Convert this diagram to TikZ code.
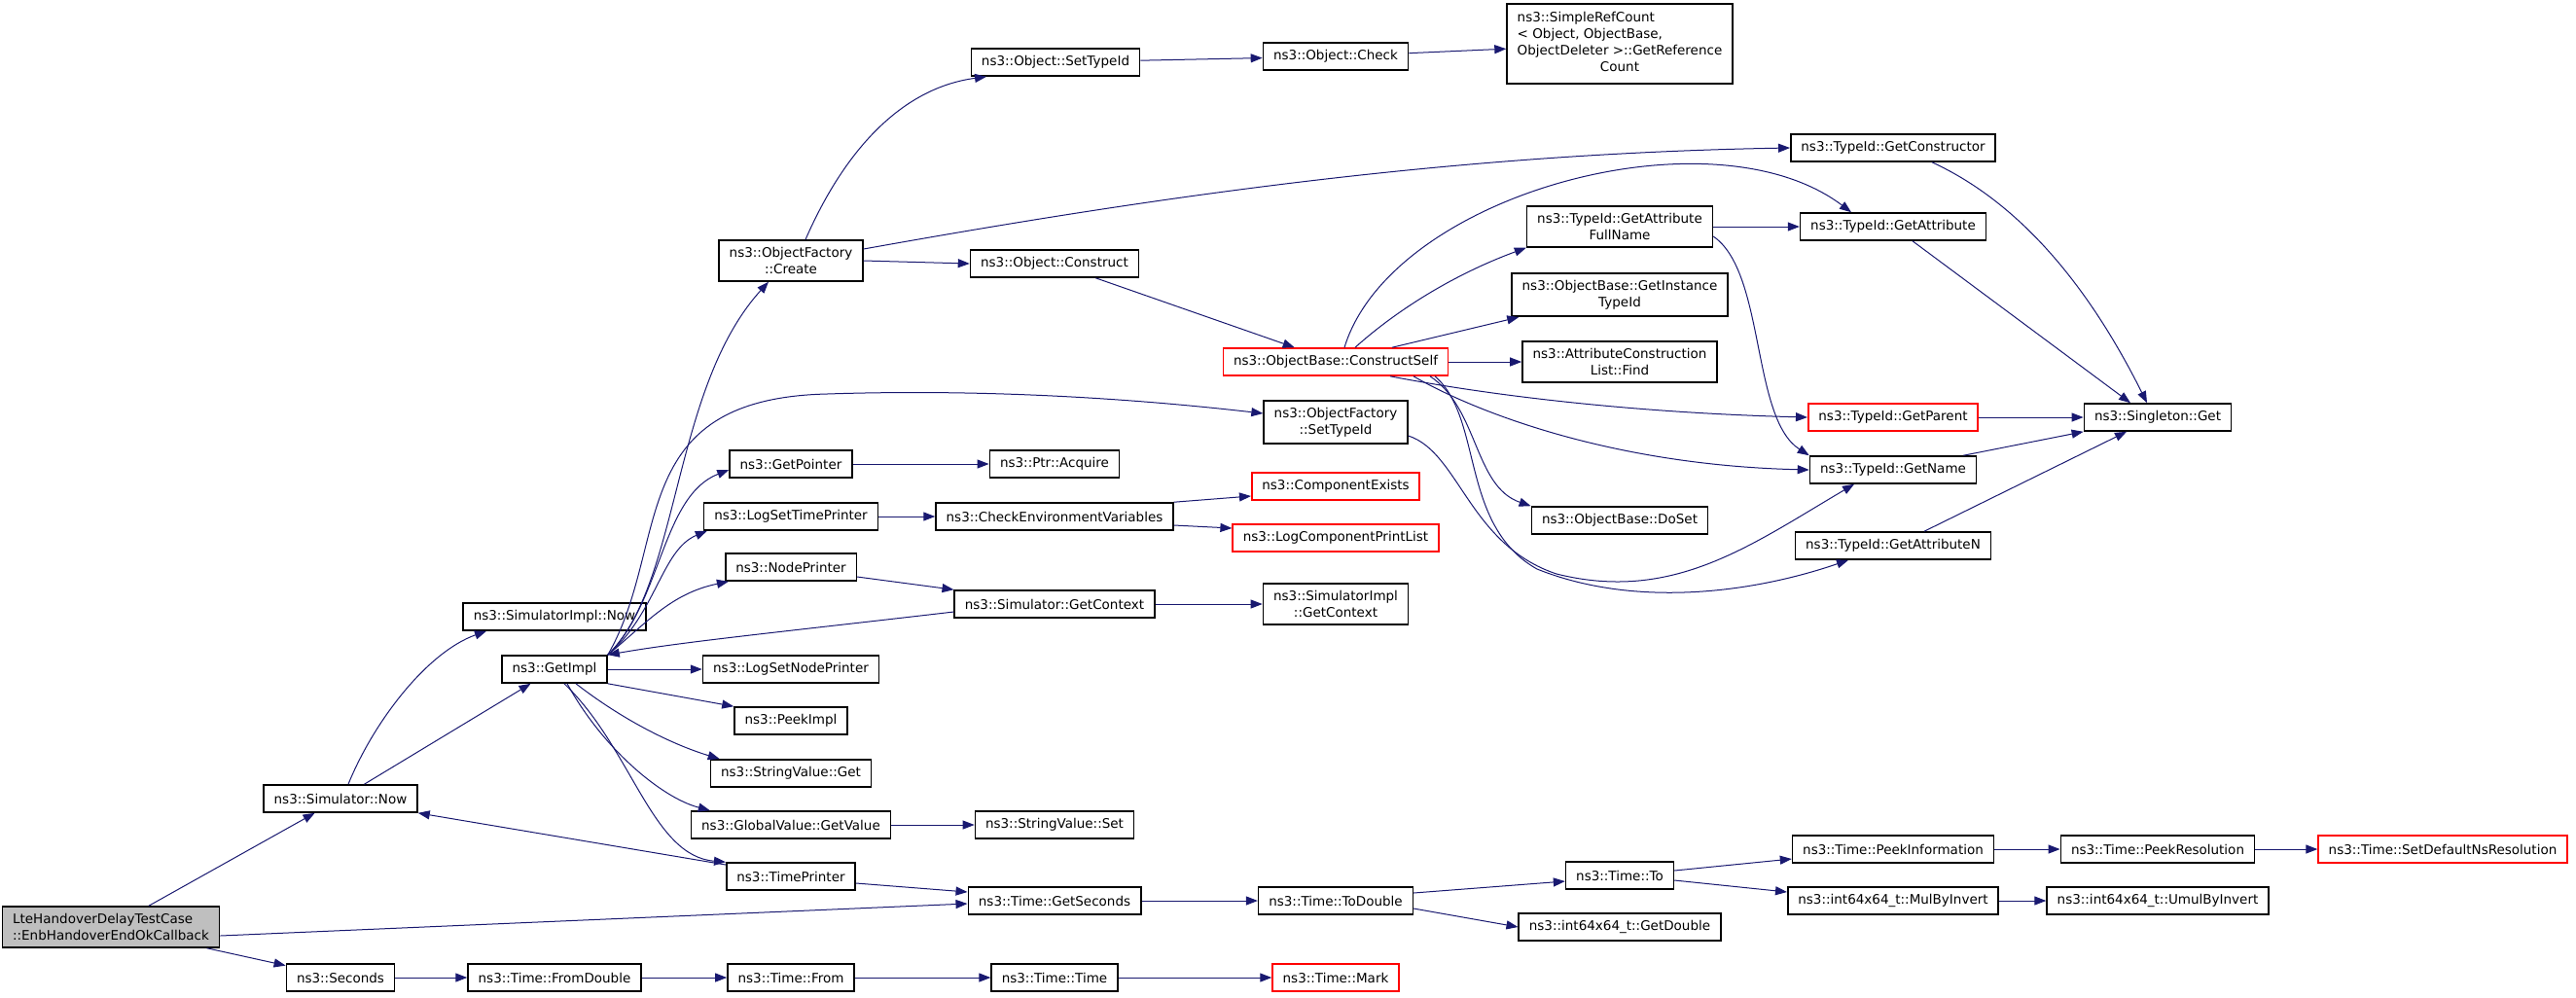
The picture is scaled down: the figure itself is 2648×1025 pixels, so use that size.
\documentclass[tikz,border=0pt]{standalone}
\usepackage{fontspec}
\setmainfont{DejaVu Sans}
\usepackage{tikz}
\usetikzlibrary{arrows.meta}
\definecolor{edgeblue}{HTML}{191970}
\definecolor{rootgray}{HTML}{BFBFBF}

\begin{document}
\begin{tikzpicture}[x=0.5pt,y=-0.5pt,
  fn/.style={draw=black,fill=white,line width=0.8pt,inner xsep=5.3pt,inner ysep=3.6pt,
    minimum height=14pt,align=center,font=\fontsize{6.75}{8.5}\selectfont},
  fnred/.style={fn,draw=red},
  call/.style={draw=edgeblue,line width=0.5pt,-{Triangle[length=6pt,width=4.5pt]}}]
  \useasboundingbox (0,0) rectangle (2648,1025);

  \node[fn,fill=rootgray,align=left] (root) at (114,953) {LteHandoverDelayTestCase\\::EnbHandoverEndOkCallback};
  \node[fn] (simNow) at (350,821) {ns3::Simulator::Now};
  \node[fn] (seconds) at (350,1005) {ns3::Seconds};
  \node[fn] (implNow) at (570,634) {ns3::SimulatorImpl::Now};
  \node[fn] (getImpl) at (570,688) {ns3::GetImpl};
  \node[fn] (fromDouble) at (570,1005) {ns3::Time::FromDouble};
  \node[fn] (ofCreate) at (813,268) {ns3::ObjectFactory\\::Create};
  \node[fn] (getPointer) at (813,477) {ns3::GetPointer};
  \node[fn] (logTimePr) at (813,531) {ns3::LogSetTimePrinter};
  \node[fn] (nodePr) at (813,583) {ns3::NodePrinter};
  \node[fn] (logNodePr) at (813,688) {ns3::LogSetNodePrinter};
  \node[fn] (peekImpl) at (813,741) {ns3::PeekImpl};
  \node[fn] (svGet) at (813,795) {ns3::StringValue::Get};
  \node[fn] (gvGetValue) at (813,848) {ns3::GlobalValue::GetValue};
  \node[fn] (timePr) at (813,901) {ns3::TimePrinter};
  \node[fn] (timeFrom) at (813,1005) {ns3::Time::From};
  \node[fn] (objSetTid) at (1085,64) {ns3::Object::SetTypeId};
  \node[fn] (objConstruct) at (1084,271) {ns3::Object::Construct};
  \node[fn] (ptrAcquire) at (1084,477) {ns3::Ptr::Acquire};
  \node[fn] (checkEnv) at (1084,531) {ns3::CheckEnvironmentVariables};
  \node[fn] (simGetCtx) at (1084,621) {ns3::Simulator::GetContext};
  \node[fn] (svSet) at (1084,848) {ns3::StringValue::Set};
  \node[fn] (getSeconds) at (1084,926) {ns3::Time::GetSeconds};
  \node[fn] (timeTime) at (1084,1005) {ns3::Time::Time};
  \node[fn] (objCheck) at (1373,58) {ns3::Object::Check};
  \node[fnred] (constructSelf) at (1373,372) {ns3::ObjectBase::ConstructSelf};
  \node[fn] (ofSetTid) at (1373,434) {ns3::ObjectFactory\\::SetTypeId};
  \node[fnred] (compExists) at (1373,500) {ns3::ComponentExists};
  \node[fnred] (logCompList) at (1373,553) {ns3::LogComponentPrintList};
  \node[fn] (implGetCtx) at (1373,621) {ns3::SimulatorImpl\\::GetContext};
  \node[fn] (toDouble) at (1373,926) {ns3::Time::ToDouble};
  \node[fnred] (timeMark) at (1373,1005) {ns3::Time::Mark};
  \node[fn] (refCount) at (1665,45) {\begin{tabular}{@{}l@{}}ns3::SimpleRefCount\\< Object, ObjectBase,\\ ObjectDeleter >::GetReference\\\multicolumn{1}{@{}c@{}}{Count}\end{tabular}};
  \node[fn] (getAttrFull) at (1665,233) {ns3::TypeId::GetAttribute\\FullName};
  \node[fn] (instTid) at (1665,303) {ns3::ObjectBase::GetInstance\\TypeId};
  \node[fn] (attrFind) at (1665,372) {ns3::AttributeConstruction\\List::Find};
  \node[fn] (doSet) at (1665,535) {ns3::ObjectBase::DoSet};
  \node[fn] (timeTo) at (1665,900) {ns3::Time::To};
  \node[fn] (getDouble) at (1665,953) {ns3::int64x64\_t::GetDouble};
  \node[fn] (getCtor) at (1946,152) {ns3::TypeId::GetConstructor};
  \node[fn] (getAttr) at (1946,233) {ns3::TypeId::GetAttribute};
  \node[fnred] (getParent) at (1946,429) {ns3::TypeId::GetParent};
  \node[fn] (getName) at (1946,483) {ns3::TypeId::GetName};
  \node[fn] (getAttrN) at (1946,561) {ns3::TypeId::GetAttributeN};
  \node[fn] (peekInfo) at (1946,873) {ns3::Time::PeekInformation};
  \node[fn] (mulByInv) at (1946,926) {ns3::int64x64\_t::MulByInvert};
  \node[fn] (singleton) at (2218,429) {ns3::Singleton::Get};
  \node[fn] (peekRes) at (2218,873) {ns3::Time::PeekResolution};
  \node[fn] (umulByInv) at (2218,926) {ns3::int64x64\_t::UmulByInvert};
  \node[fnred] (setDefRes) at (2511,873) {ns3::Time::SetDefaultNsResolution};

  \draw[call] (root) -- (simNow);
  \draw[call] (root) -- (seconds);
  \draw[call] ([yshift=-4.5pt]root.east) -- ([yshift=-1.5pt]getSeconds.west);
  \draw[call] ([xshift=4pt]simNow.north) .. controls (385,740) and (440,670) .. ([xshift=-35pt]implNow.south);
  \draw[call] (simNow) -- (getImpl);
  \draw[call] ([yshift=6pt]timePr.west) -- (simNow.south east);
  \draw[call] (seconds) -- (fromDouble);
  \draw[call] (fromDouble) -- (timeFrom);
  \draw[call] (timeFrom) -- (timeTime);
  \draw[call] (timeTime) -- (timeMark);

  \draw[call] (getImpl.north east) .. controls (700,600) and (690,400) .. ([xshift=-11.5pt]ofCreate.south);
  \draw[call] (getImpl.north east) .. controls (690,560) and (640,410) .. (850,405) .. controls (1000,400) and (1150,408) .. ([yshift=4.5pt]ofSetTid.west);
  \draw[call] (getImpl.north east) .. controls (680,620) and (680,510) .. ([yshift=-3pt]getPointer.west);
  \draw[call] (getImpl.north east) .. controls (675,630) and (680,565) .. ([xshift=2pt]logTimePr.south west);
  \draw[call] (getImpl.north east) .. controls (665,640) and (690,610) .. ([xshift=2pt]nodePr.south west);
  \draw[call] ([yshift=-4pt]simGetCtx.west) .. controls (800,650) and (700,660) .. (getImpl.north east);
  \draw[call] (getImpl) -- (logNodePr);
  \draw[call] (getImpl.south east) -- (peekImpl.north west);
  \draw[call] ([xshift=11pt]getImpl.south) .. controls (640,740) and (690,765) .. ([xshift=5pt]svGet.north west);
  \draw[call] ([xshift=6.5pt]getImpl.south) .. controls (620,770) and (680,820) .. ([xshift=10pt]gvGetValue.north west);
  \draw[call] ([xshift=5pt]getImpl.south) .. controls (650,770) and (670,880) .. (timePr.north west);

  \draw[call] ([xshift=7.5pt]ofCreate.north) .. controls (870,150) and (930,90) .. ([xshift=-35.5pt]objSetTid.south);
  \draw[call] (ofCreate.east) -- (objConstruct.west);
  \draw[call] ([yshift=6pt]ofCreate.east) .. controls (1200,200) and (1500,158) .. (getCtor.west);
  \draw[call] (objSetTid) -- (objCheck);
  \draw[call] (objCheck) -- (refCount);
  \draw[call] (objConstruct) -- (constructSelf);

  \draw[call] ([xshift=4.5pt]constructSelf.north) .. controls (1430,200) and (1760,110) .. ([xshift=-21.5pt]getAttr.north);
  \draw[call] ([xshift=10pt]constructSelf.north) .. controls (1440,315) and (1500,280) .. (getAttrFull.south west);
  \draw[call] ([xshift=29pt]constructSelf.north) -- ([xshift=4pt]instTid.south west);
  \draw[call] (constructSelf) -- (attrFind);
  \draw[call] ([xshift=28pt]constructSelf.south) .. controls (1550,410) and (1700,425) .. (getParent.west);
  \draw[call] ([xshift=40pt]constructSelf.south) .. controls (1510,420) and (1650,478) .. (getName.west);
  \draw[call] ([xshift=48.5pt]constructSelf.south) .. controls (1520,420) and (1515,500) .. (doSet.north west);
  \draw[call] ([xshift=51pt]constructSelf.south) .. controls (1525,430) and (1500,540) .. (1580,585) .. controls (1680,625) and (1800,610) .. ([xshift=-23pt]getAttrN.south);
  \draw[call] ([yshift=-7pt]ofSetTid.east) .. controls (1500,465) and (1510,560) .. (1600,590) .. controls (1720,620) and (1800,560) .. ([xshift=-20pt]getName.south);

  \draw[call] (getAttrFull) -- (getAttr);
  \draw[call] ([yshift=-5pt]getAttrFull.east) .. controls (1815,280) and (1800,430) .. (getName.north west);
  \draw[call] ([xshift=20pt]getCtor.south) .. controls (2080,210) and (2150,300) .. ([xshift=-5.5pt]singleton.north);
  \draw[call] ([xshift=10pt]getAttr.south) -- ([xshift=-14pt]singleton.north);
  \draw[call] (getParent) -- (singleton);
  \draw[call] ([xshift=-7pt]getName.north east) -- (singleton.south west);
  \draw[call] ([xshift=16pt]getAttrN.north) -- ([xshift=-16pt]singleton.south);

  \draw[call] (getPointer) -- (ptrAcquire);
  \draw[call] (logTimePr) -- (checkEnv);
  \draw[call] (checkEnv.north east) -- ([yshift=-5pt]compExists.west);
  \draw[call] ([yshift=-4.5pt]checkEnv.east) -- ([yshift=5pt]logCompList.west);
  \draw[call] ([yshift=-5pt]nodePr.east) -- (simGetCtx.north west);
  \draw[call] (simGetCtx) -- (implGetCtx);
  \draw[call] (gvGetValue) -- (svSet);
  \draw[call] ([yshift=-3.5pt]timePr.east) -- ([yshift=4.5pt]getSeconds.west);
  \draw[call] (getSeconds) -- (toDouble);
  \draw[call] ([yshift=4pt]toDouble.east) -- ([yshift=-3pt]timeTo.west);
  \draw[call] ([yshift=-4pt]toDouble.east) -- (getDouble.west);
  \draw[call] ([yshift=2.5pt]timeTo.east) -- ([yshift=-5pt]peekInfo.west);
  \draw[call] ([yshift=-2.5pt]timeTo.east) -- ([yshift=4.5pt]mulByInv.west);
  \draw[call] (peekInfo) -- (peekRes);
  \draw[call] (peekRes) -- (setDefRes);
  \draw[call] (mulByInv) -- (umulByInv);
\end{tikzpicture}
\end{document}
